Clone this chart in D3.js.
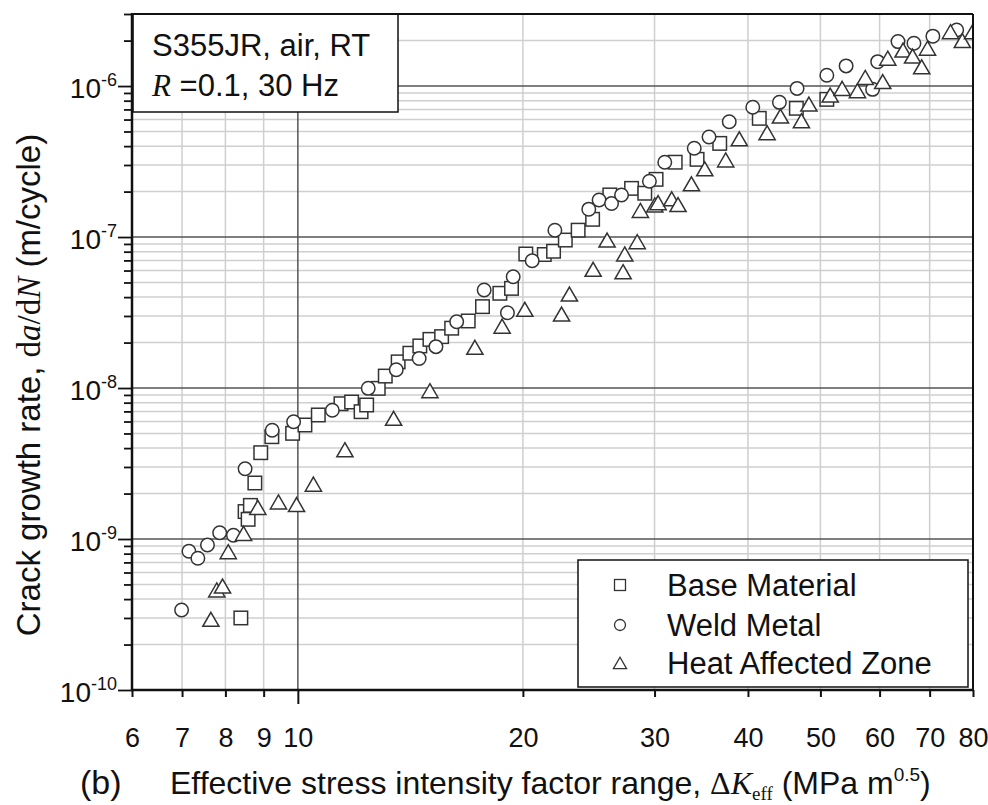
<!DOCTYPE html>
<html>
<head>
<meta charset="utf-8">
<script src="https://cdn.jsdelivr.net/npm/d3@7"></script>
<style>
  body { margin: 0; background: #fff; }
  svg text { font-family: "Liberation Sans", Arial, sans-serif; fill: #111; }
  .serif { font-family: "Liberation Serif", "DejaVu Serif", serif; }
</style>
</head>
<body>
<svg id="chart" width="988" height="805"></svg>
<script>
// values: [delta K_eff (MPa m^0.5), da/dN (m/cycle)]
var baseMaterial = [
  [8.39,3.0e-10],[8.50,1.52e-9],[8.58,1.35e-9],[8.64,1.67e-9],[8.76,2.35e-9],[8.92,3.73e-9],
  [9.23,4.76e-9],[9.84,5.01e-9],[10.22,5.69e-9],[10.65,6.63e-9],[11.42,7.87e-9],[11.80,8.08e-9],
  [12.15,6.97e-9],[12.36,7.72e-9],[12.81,9.95e-9],[13.09,1.20e-8],[13.62,1.49e-8],[14.12,1.70e-8],
  [14.56,1.90e-8],[15.02,2.10e-8],[15.57,2.19e-8],[16.06,2.49e-8],[16.90,2.78e-8],[17.66,3.46e-8],
  [18.63,4.24e-8],[19.31,4.57e-8],[20.18,7.72e-8],[21.36,7.66e-8],[21.98,8.05e-8],[22.79,9.55e-8],
  [23.71,1.11e-7],[24.79,1.31e-7],[26.14,1.90e-7],[27.95,2.10e-7],[29.11,1.95e-7],[30.14,2.41e-7],
  [31.97,3.13e-7],[34.20,3.27e-7],[36.67,4.17e-7],[41.42,6.11e-7],[46.43,7.12e-7],[51.00,8.16e-7]
];
var weldMetal = [
  [6.99,3.39e-10],[7.15,8.29e-10],[7.35,7.45e-10],[7.57,9.12e-10],[7.86,1.10e-9],[8.20,1.06e-9],
  [8.50,2.92e-9],[9.24,5.25e-9],[9.87,5.98e-9],[11.12,7.12e-9],[12.42,9.95e-9],[13.54,1.32e-8],
  [14.53,1.57e-8],[15.30,1.88e-8],[16.31,2.75e-8],[17.75,4.46e-8],[19.07,3.15e-8],[19.41,5.46e-8],
  [20.58,6.97e-8],[22.07,1.11e-7],[24.50,1.53e-7],[25.29,1.76e-7],[26.28,1.67e-7],[27.10,1.90e-7],
  [29.53,2.34e-7],[30.96,3.13e-7],[33.90,3.87e-7],[35.48,4.60e-7],[37.76,5.80e-7],[40.60,7.23e-7],
  [44.07,7.80e-7],[46.53,9.65e-7],[51.00,1.18e-6],[54.12,1.36e-6],[58.72,9.51e-7],[59.65,1.45e-6],
  [63.50,1.97e-6],[66.69,1.92e-6],[70.70,2.14e-6],[76.08,2.35e-6]
];
var heatAffectedZone = [
  [7.65,2.94e-10],[7.79,4.60e-10],[7.93,4.88e-10],[8.07,8.24e-10],[8.46,1.09e-9],[8.84,1.62e-9],
  [9.42,1.76e-9],[9.96,1.69e-9],[10.49,2.31e-9],[11.56,3.90e-9],[13.43,6.30e-9],[15.02,9.60e-9],
  [17.25,1.86e-8],[18.76,2.57e-8],[20.12,3.32e-8],[22.53,3.09e-8],[23.08,4.19e-8],[24.83,6.11e-8],
  [25.92,9.55e-8],[27.23,5.89e-8],[27.37,7.72e-8],[28.44,9.31e-8],[28.72,1.50e-7],[30.02,1.63e-7],
  [30.33,1.69e-7],[31.63,1.79e-7],[32.25,1.64e-7],[33.61,2.25e-7],[35.02,2.83e-7],[37.35,3.24e-7],
  [38.95,4.47e-7],[42.43,4.91e-7],[44.21,6.33e-7],[47.16,5.89e-7],[48.26,7.60e-7],[51.53,8.72e-7],
  [53.46,9.65e-7],[56.04,9.31e-7],[57.40,1.14e-6],[60.58,1.07e-6],[61.53,1.53e-6],[64.50,1.73e-6],
  [66.42,1.58e-6],[68.31,1.34e-6],[69.54,1.78e-6],[74.64,2.29e-6],[77.42,2.00e-6],[79.89,2.29e-6]
];

var xTicks = [6, 7, 8, 9, 10, 20, 30, 40, 50, 60, 70, 80];
var yDecades = [-10, -9, -8, -7, -6];
var legendLabels = ["Base Material", "Weld Metal", "Heat Affected Zone"];
var noteLine1 = "S355JR, air, RT";
var noteLine2 = " =0.1, 30 Hz";

var svg = d3.select("#chart");

// plot frame in pixels
var plotLeft = 132, plotRight = 973, plotTop = 14, plotBottom = 690;

var x = d3.scaleLog().domain([6, 80]).range([plotLeft, plotRight]);
var y = d3.scaleLog().domain([1e-10, 3e-6]).range([plotBottom, plotTop]);

// minor values for the log y axis (2..9 in each decade)
var yMinor = [];
yDecades.forEach(function (k) {
  for (var m = 2; m <= 9; m++) {
    var v = +(m + "e" + k);
    if (v <= 3e-6) yMinor.push(v);
  }
});
var yMajor = yDecades.map(function (k) { return +("1e" + k); });

// ---- grid ----
var grid = svg.append("g");
grid.selectAll(".hminor").data(yMinor).enter().append("line")
  .attr("x1", plotLeft).attr("x2", plotRight)
  .attr("y1", function (d) { return y(d); }).attr("y2", function (d) { return y(d); })
  .attr("stroke", "#cfcfcf").attr("stroke-width", 1.5);
grid.selectAll(".vminor").data(xTicks.filter(function (d) { return d !== 6 && d !== 10 && d !== 80; }))
  .enter().append("line")
  .attr("y1", plotTop).attr("y2", plotBottom)
  .attr("x1", function (d) { return x(d); }).attr("x2", function (d) { return x(d); })
  .attr("stroke", "#cfcfcf").attr("stroke-width", 1.5);
grid.selectAll(".hmajor").data(yMajor.slice(1)).enter().append("line")
  .attr("x1", plotLeft).attr("x2", plotRight)
  .attr("y1", function (d) { return y(d); }).attr("y2", function (d) { return y(d); })
  .attr("stroke", "#555").attr("stroke-width", 1.5);
grid.append("line")
  .attr("x1", x(10)).attr("x2", x(10)).attr("y1", plotTop).attr("y2", plotBottom)
  .attr("stroke", "#555").attr("stroke-width", 1.5);

// ---- note box top-left ----
svg.append("rect")
  .attr("x", plotLeft + 1).attr("y", plotTop).attr("width", 265).attr("height", 98)
  .attr("fill", "#fff").attr("stroke", "#111").attr("stroke-width", 1.5);
svg.append("text").attr("x", 152).attr("y", 56).attr("font-size", 31).text(noteLine1);
var n2 = svg.append("text").attr("x", 152).attr("y", 96).attr("font-size", 31);
n2.append("tspan").attr("class", "serif").attr("font-style", "italic").text("R");
n2.append("tspan").text(noteLine2);

// ---- markers ----
svg.append("clipPath").attr("id", "plotClip")
  .append("rect").attr("x", plotLeft).attr("y", plotTop)
  .attr("width", plotRight - plotLeft).attr("height", plotBottom - plotTop);

function addMarker(g, type, size) {
  if (type === "square") {
    g.append("rect").attr("x", -size / 2).attr("y", -size / 2)
      .attr("width", size).attr("height", size);
  } else if (type === "circle") {
    g.append("circle").attr("r", size / 2);
  } else {
    var w = size * 1.2, h = size * 1.04;
    g.append("path").attr("d", "M0," + (-h / 2) + "L" + (w / 2) + "," + (h / 2) + "L" + (-w / 2) + "," + (h / 2) + "Z");
  }
}

var series = [
  { data: baseMaterial, type: "square" },
  { data: weldMetal, type: "circle" },
  { data: heatAffectedZone, type: "triangle" }
];

var marks = svg.append("g").attr("clip-path", "url(#plotClip)");
series.forEach(function (s) {
  marks.append("g").selectAll("g").data(s.data).enter().append("g")
    .attr("transform", function (d) { return "translate(" + x(d[0]) + "," + y(d[1]) + ")"; })
    .attr("fill", "#fff").attr("stroke", "#333").attr("stroke-width", 1.5)
    .each(function () { addMarker(d3.select(this), s.type, 13.5); });
});

// ---- axes ----
var xAxis = d3.axisBottom(x).tickValues(xTicks).tickSize(7).tickFormat("");
var gx = svg.append("g").attr("transform", "translate(0," + plotBottom + ")").call(xAxis);
gx.select(".domain").remove();
gx.selectAll(".tick line").attr("stroke", "#111").attr("stroke-width", 2)
  .attr("y2", function (d) { return d === 10 ? 14 : 7; });
gx.selectAll(".tick").append("text")
  .attr("y", 57).attr("text-anchor", "middle").attr("font-size", 27)
  .text(function (d) { return d; });

var yAxis = d3.axisLeft(y).tickValues(yMajor.concat(yMinor)).tickSize(8).tickFormat("");
var gy = svg.append("g").attr("transform", "translate(" + plotLeft + ",0)").call(yAxis);
gy.select(".domain").remove();
gy.selectAll(".tick line").attr("stroke", "#111").attr("stroke-width", 1.8)
  .attr("x2", function (d) { return yMajor.indexOf(d) >= 0 ? -14 : -8; });

var yl = svg.append("g").selectAll("text").data(yDecades).enter().append("text")
  .attr("x", 117).attr("y", function (k) { return y(+("1e" + k)) + 12; })
  .attr("text-anchor", "end").attr("font-size", 28);
yl.append("tspan").text("10");
yl.append("tspan").attr("font-size", 18).attr("dy", -12).text(function (k) { return k; });

// frame
svg.append("line").attr("x1", plotLeft).attr("x2", plotLeft).attr("y1", plotTop - 1).attr("y2", plotBottom + 1)
  .attr("stroke", "#111").attr("stroke-width", 2.5);
svg.append("line").attr("x1", plotLeft - 1).attr("x2", plotRight + 1).attr("y1", plotBottom).attr("y2", plotBottom)
  .attr("stroke", "#111").attr("stroke-width", 2.5);
svg.append("line").attr("x1", plotLeft).attr("x2", plotRight).attr("y1", plotTop).attr("y2", plotTop)
  .attr("stroke", "#111").attr("stroke-width", 2);
svg.append("line").attr("x1", plotRight).attr("x2", plotRight).attr("y1", plotTop).attr("y2", plotBottom)
  .attr("stroke", "#111").attr("stroke-width", 2);

// ---- legend ----
var legend = svg.append("g");
legend.append("rect").attr("x", 578).attr("y", 560).attr("width", 390).attr("height", 127)
  .attr("fill", "#fff").attr("stroke", "#111").attr("stroke-width", 1.5);
var rowY = [585, 625, 663];
legendLabels.forEach(function (label, i) {
  var g = legend.append("g").attr("transform", "translate(620," + rowY[i] + ")")
    .attr("fill", "#fff").attr("stroke", "#333").attr("stroke-width", 1.3);
  addMarker(g, series[i].type, 11);
  legend.append("text").attr("x", 667).attr("y", rowY[i] + 11).attr("font-size", 31).text(label);
});

// ---- axis titles ----
var xt = svg.append("text").attr("x", 170).attr("y", 794).attr("font-size", 32);
xt.append("tspan").text("Effective stress intensity factor range, ");
xt.append("tspan").attr("class", "serif").text("\u0394");
xt.append("tspan").attr("class", "serif").attr("font-style", "italic").text("K");
xt.append("tspan").attr("class", "serif").attr("font-size", 19).attr("dy", 6).text("eff");
xt.append("tspan").attr("dy", -6).text(" (MPa m");
xt.append("tspan").attr("font-size", 19).attr("dy", -13).text("0.5");
xt.append("tspan").attr("dy", 13).text(")");

svg.append("text").attr("x", 80).attr("y", 794).attr("font-size", 34).text("(b)");

var yt = svg.append("text").attr("transform", "translate(40,385) rotate(-90)")
  .attr("text-anchor", "middle").attr("font-size", 33);
yt.append("tspan").text("Crack growth rate, ");
yt.append("tspan").attr("class", "serif").text("d");
yt.append("tspan").attr("class", "serif").attr("font-style", "italic").text("a");
yt.append("tspan").attr("class", "serif").text("/d");
yt.append("tspan").attr("class", "serif").attr("font-style", "italic").text("N");
yt.append("tspan").text(" (m/cycle)");
</script>
</body>
</html>
